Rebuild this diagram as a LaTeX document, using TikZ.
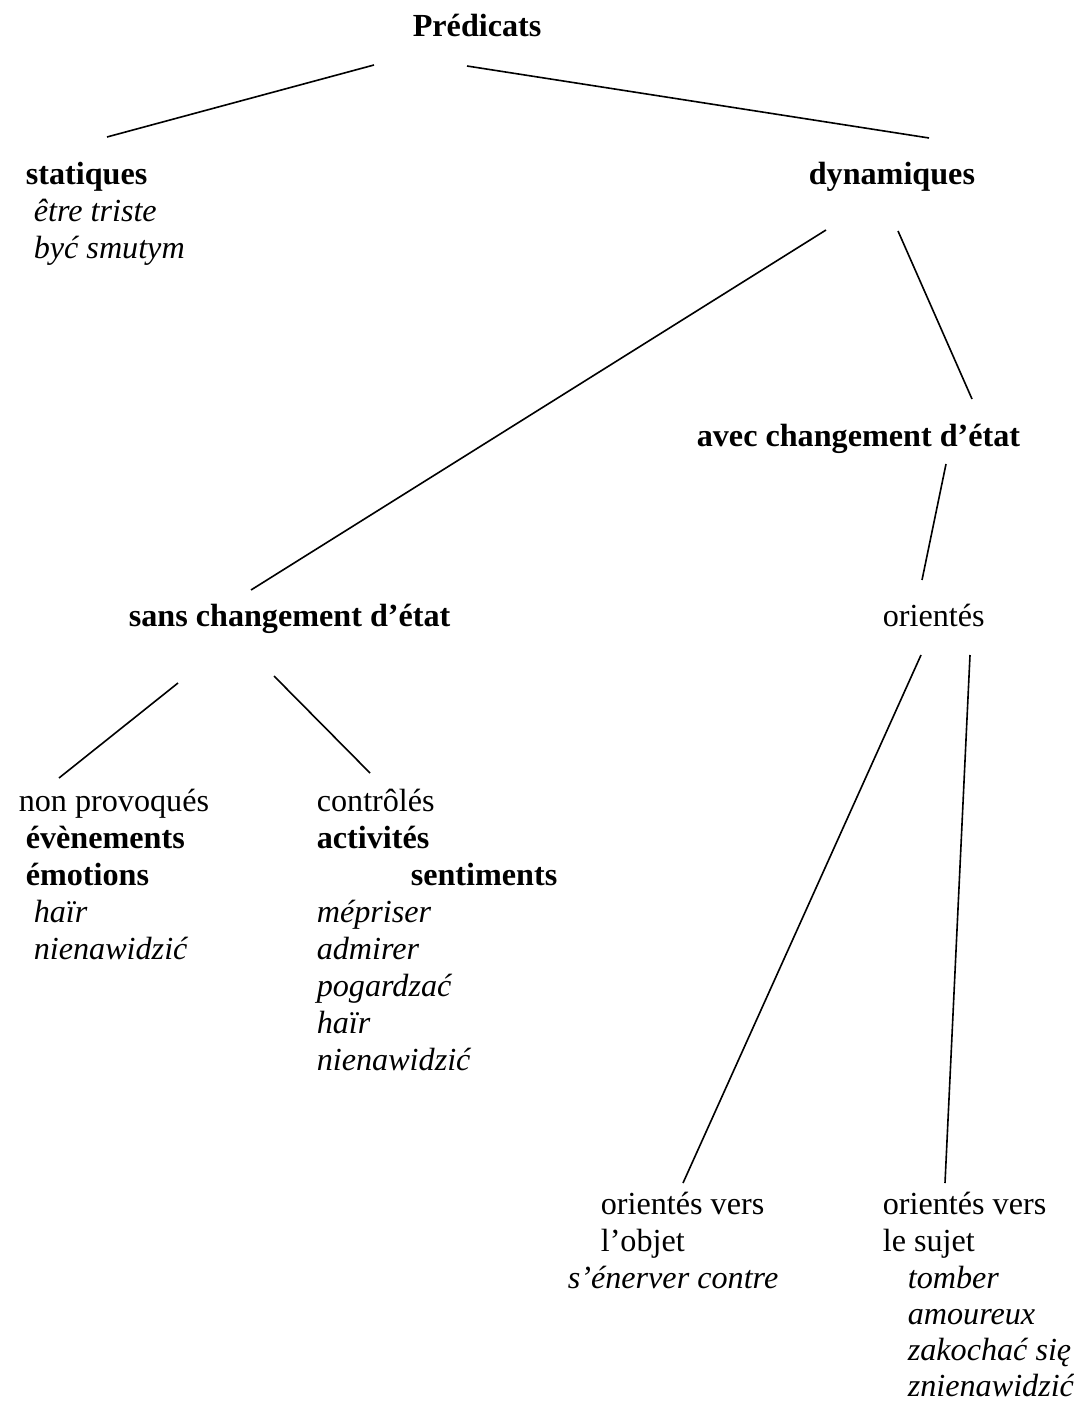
\documentclass[tikz,border=0pt]{standalone}
\usepackage{fontspec}
\setmainfont{Liberation Serif}
\begin{document}
\begin{tikzpicture}[x=0.3731pt, y=-0.3731pt, line width=0.6pt,
cat node/.style={anchor=base west,inner sep=0pt,font=\fontsize{12}{14}\selectfont\bfseries},
word node/.style={anchor=base west,inner sep=0pt,font=\fontsize{12}{14}\selectfont},
ex node/.style={anchor=base west,inner sep=0pt,font=\fontsize{12}{14}\selectfont\itshape}]
\useasboundingbox (0,0) rectangle (1074,1403);
\begin{scope}
\node[cat node] (pred) at (412,37) {Prédicats};
% statiques
\node[cat node] (stat) at (25,185) {statiques};
\node[ex node] (stat1) at (33,222) {être triste};
\node[ex node] (stat2) at (33,259) {być smutym};
% dynamiques
\node[cat node] (dyn) at (808,185) {dynamiques};
\node[cat node] (avec) at (696,446) {avec changement d’état};
\node[cat node] (sans) at (128,626) {sans changement d’état};
\node[word node] (ori) at (882,626) {orientés};
% non provoques
\node[word node] (nonprov) at (18,811) {non provoqués};
\node[cat node] (nonprov1) at (25,848) {évènements};
\node[cat node] (nonprov2) at (25,885) {émotions};
\node[ex node] (nonprov3) at (33,922) {haïr};
\node[ex node] (nonprov4) at (33,959) {nienawidzić};
% controles
\node[word node] (contr) at (316,811) {contrôlés};
\node[cat node] (contr1) at (316,848) {activités};
\node[cat node] (contr2) at (410,885) {sentiments};
\node[ex node] (contr3) at (316,922) {mépriser};
\node[ex node] (contr4) at (316,959) {admirer};
\node[ex node] (contr5) at (316,996) {pogardzać};
\node[ex node] (contr6) at (316,1033) {haïr};
\node[ex node] (contr7) at (316,1070) {nienawidzić};
% objet
\node[word node] (objet) at (600,1214) {orientés vers};
\node[word node] (objet1) at (600,1251) {l’objet};
\node[ex node] (objet2) at (567,1288) {s’énerver contre};
% sujet
\node[word node] (sujet) at (882,1214) {orientés vers};
\node[word node] (sujet1) at (882,1251) {le sujet};
\node[ex node] (sujet2) at (907,1288) {tomber};
\node[ex node] (sujet3) at (907,1324) {amoureux};
\node[ex node] (sujet4) at (907,1360) {zakochać się};
\node[ex node] (sujet5) at (907,1396) {znienawidzić};
\end{scope}
\begin{scope}
\draw ([shift={(-38,28)}]pred.base west) -- ([shift={(82,-48)}]stat.base west);
\draw ([shift={(55,29)}]pred.base west) -- ([shift={(121,-47)}]dyn.base west);
\draw ([shift={(18,45)}]dyn.base west) -- ([shift={(123,-36)}]sans.base west);
\draw ([shift={(90,46)}]dyn.base west) -- ([shift={(276,-47)}]avec.base west);
\draw ([shift={(250,18)}]avec.base west) -- ([shift={(40,-46)}]ori.base west);
\draw ([shift={(50,57)}]sans.base west) -- ([shift={(41,-33)}]nonprov.base west);
\draw ([shift={(146,50)}]sans.base west) -- ([shift={(54,-38)}]contr.base west);
\draw ([shift={(39,29)}]ori.base west) -- ([shift={(83,-31)}]objet.base west);
\draw ([shift={(88,29)}]ori.base west) -- ([shift={(63,-31)}]sujet.base west);
\end{scope}
\end{tikzpicture}
\end{document}
